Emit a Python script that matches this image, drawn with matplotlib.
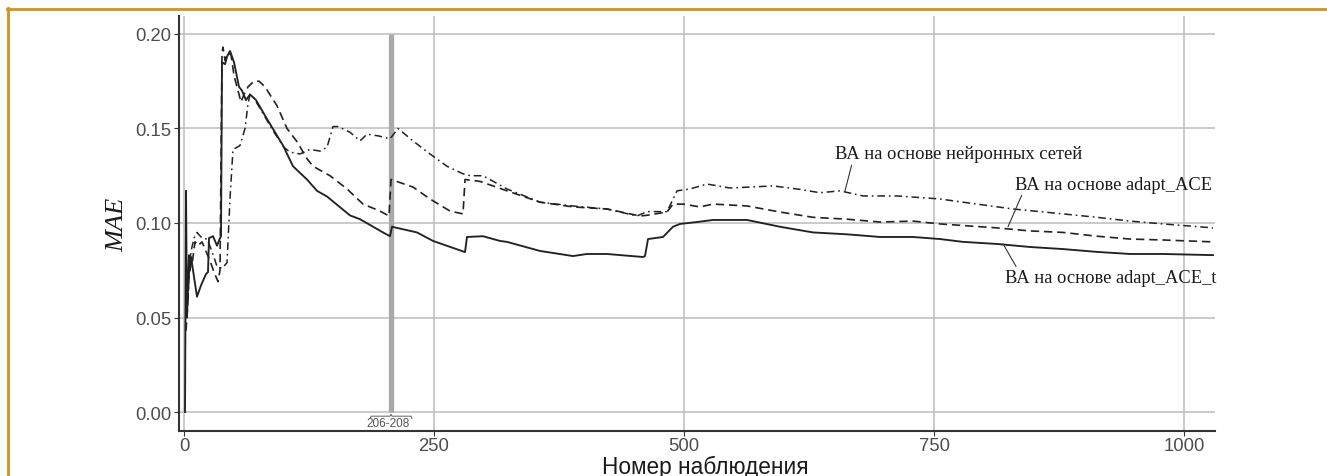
import matplotlib
matplotlib.use("Agg")
import matplotlib.pyplot as plt

# Observation index and running MAE for the three forecasting schemes
x_ace_t = [1, 2, 3, 5, 6, 7, 9, 13, 17, 22, 24, 25, 29, 33, 36, 37, 38, 41, 43, 46, 50,
           55, 58, 62, 66, 72, 83, 99, 109, 123, 133, 143, 166, 176, 199, 206, 208, 233,
           249, 281, 283, 299, 316, 323, 356, 389, 403, 423, 459, 461, 464, 479, 489, 496,
           513, 529, 563, 596, 629, 663, 696, 729, 756, 779, 813, 846, 879, 913, 946, 979,
           1029]
mae_ace_t = [0.000, 0.117, 0.050, 0.083, 0.075, 0.082, 0.075, 0.061, 0.067, 0.073, 0.074,
             0.092, 0.093, 0.088, 0.092, 0.093, 0.185, 0.184, 0.188, 0.191, 0.185, 0.172,
             0.170, 0.165, 0.168, 0.165, 0.155, 0.141, 0.130, 0.123, 0.117, 0.114, 0.104,
             0.102, 0.095, 0.093, 0.098, 0.095, 0.0905, 0.0846, 0.0926, 0.093, 0.0905,
             0.090, 0.0852, 0.0825, 0.0836, 0.0836, 0.082, 0.0825, 0.0915, 0.0926, 0.098,
             0.0995, 0.1005, 0.1016, 0.1016, 0.098, 0.095, 0.094, 0.0926, 0.0926, 0.0915,
             0.090, 0.0889, 0.0873, 0.0862, 0.0847, 0.0836, 0.0836, 0.083]

x_ace = [2, 4, 6, 8, 11, 14, 18, 22, 26, 30, 34, 36, 38, 39, 41, 44, 47, 50, 54, 57, 60,
         64, 70, 75, 81, 93, 103, 113, 123, 129, 146, 163, 179, 196, 205, 207, 229, 246,
         266, 279, 281, 296, 323, 356, 389, 423, 456, 462, 483, 489, 499, 516, 529, 563,
         596, 629, 663, 696, 729, 756, 813, 846, 879, 913, 946, 979, 1029]
mae_ace = [0.043, 0.060, 0.084, 0.078, 0.090, 0.088, 0.090, 0.085, 0.080, 0.074, 0.069,
           0.075, 0.190, 0.193, 0.186, 0.190, 0.189, 0.178, 0.170, 0.164, 0.168, 0.172,
           0.175, 0.175, 0.172, 0.162, 0.150, 0.143, 0.134, 0.130, 0.125, 0.118, 0.110,
           0.1063, 0.1037, 0.123, 0.119, 0.1127, 0.1063, 0.1048, 0.123, 0.122, 0.117,
           0.111, 0.1085, 0.1074, 0.1037, 0.104, 0.1058, 0.110, 0.110, 0.1085, 0.110,
           0.109, 0.1058, 0.103, 0.102, 0.1005, 0.101, 0.0995, 0.0974, 0.0958, 0.095,
           0.093, 0.0915, 0.091, 0.090]

x_nn = [3, 5, 7, 10, 13, 18, 23, 28, 33, 38, 43, 46, 49, 53, 56, 61, 64, 66, 70, 80, 90,
        100, 106, 116, 126, 136, 143, 149, 154, 166, 176, 183, 195, 206, 214, 229, 246,
        263, 279, 286, 299, 323, 356, 389, 423, 453, 463, 483, 493, 506, 523, 546, 589,
        613, 636, 656, 679, 713, 756, 779, 829, 879, 913, 946, 979, 1029]
mae_nn = [0.050, 0.070, 0.085, 0.092, 0.095, 0.092, 0.0915, 0.085, 0.077, 0.076, 0.079,
          0.113, 0.139, 0.140, 0.141, 0.150, 0.163, 0.168, 0.166, 0.157, 0.148, 0.140,
          0.1375, 0.1365, 0.139, 0.138, 0.140, 0.151, 0.151, 0.148, 0.1434, 0.147, 0.146,
          0.1445, 0.150, 0.1434, 0.1365, 0.130, 0.126, 0.125, 0.125, 0.118, 0.111, 0.109,
          0.1074, 0.1037, 0.106, 0.106, 0.117, 0.118, 0.1206, 0.1185, 0.1196, 0.118,
          0.116, 0.117, 0.1143, 0.1143, 0.1127, 0.111, 0.1074, 0.1048, 0.103, 0.101,
          0.0995, 0.0974]

labels = ["ВА на основе нейронных сетей",
          "ВА на основе adapt_ACE",
          "ВА на основе adapt_ACE_t"]

x_ticks = [0, 250, 500, 750, 1000]
y_ticks = [0.00, 0.05, 0.10, 0.15, 0.20]
band = (206, 208)

plt.rcParams["lines.scale_dashes"] = False

fig = plt.figure(figsize=(13.27, 4.77), dpi=100)
ax = fig.add_axes([0.1349, 0.0943, 0.9156 - 0.1349, 0.9644 - 0.0943])

line_col = "#222222"
ax.plot(x_ace_t, mae_ace_t, color=line_col, lw=1.35, solid_joinstyle="round", zorder=4)
ax.plot(x_ace, mae_ace, color=line_col, lw=1.2, linestyle=(0, (6, 3.5)), zorder=4)
ax.plot(x_nn, mae_nn, color=line_col, lw=1.1, linestyle=(0, (5.5, 2.8, 1.2, 2.8)), zorder=4)

# highlighted observation interval
band_mid = (band[0] + band[1]) / 2
ax.vlines(band_mid, y_ticks[0], y_ticks[-1], color="#a9a9a9", lw=3.8, zorder=3)
bx = [band_mid - 21, band_mid - 20, band_mid - 1, band_mid, band_mid + 1, band_mid + 20, band_mid + 21]
by = [-0.0034, -0.0022, -0.0022, -0.0012, -0.0022, -0.0022, -0.0034]
ax.plot(bx, by, color="#606060", lw=0.7, zorder=4, clip_on=False)
ax.text(band_mid - 3, -0.0057, f"{band[0]}-{band[1]}", ha="center", va="center",
        fontsize=8.5, color="#555555", family="Liberation Sans", zorder=4)

ax.set_xlim(-5, 1031)
ax.set_ylim(-0.01005, 0.2095)
ax.set_xticks(x_ticks)
ax.set_yticks(y_ticks)
ax.set_yticklabels([f"{v:.2f}" for v in y_ticks])
ax.grid(True, color="#bcbcbc", lw=1.1, zorder=0)
ax.set_axisbelow(True)
for s in ["top", "right"]:
    ax.spines[s].set_visible(False)
for s in ["left", "bottom"]:
    ax.spines[s].set_color("#333333")
    ax.spines[s].set_linewidth(1.5)
ax.tick_params(axis="both", length=3.5, width=0.8, color="#333333", labelcolor="#4d4d4d",
               labelsize=13.3, pad=2)
ax.tick_params(axis="x", pad=0.5)
for lab in ax.get_xticklabels() + ax.get_yticklabels():
    lab.set_family("Liberation Sans")

ax.set_xlabel("Номер наблюдения", fontsize=16.3, family="Liberation Sans", color="#1a1a1a")
ax.xaxis.set_label_coords(0.508, -0.057)
ax.set_ylabel("MAE", fontsize=19, family="Liberation Serif", style="italic", color="#1a1a1a")
ax.yaxis.set_label_coords(-0.049, 0.499)

# callouts for each curve
serif = dict(fontsize=13.3, family="Liberation Serif", color="#1a1a1a", zorder=5)
ax.annotate(labels[0], xy=(661, 0.117), xytext=(651, 0.1365), ha="left", va="center",
            arrowprops=dict(arrowstyle="-", color="#333333", lw=0.8,
                            shrinkA=0, shrinkB=0, relpos=(0.07, 0.0)), **serif)
ax.annotate(labels[1], xy=(824, 0.098), xytext=(831, 0.1206), ha="left", va="center",
            arrowprops=dict(arrowstyle="-", color="#333333", lw=0.8,
                            shrinkA=0, shrinkB=0, relpos=(0.04, 0.0)), **serif)
ax.annotate(labels[2], xy=(819, 0.089), xytext=(821, 0.071), ha="left", va="center",
            arrowprops=dict(arrowstyle="-", color="#333333", lw=0.8,
                            shrinkA=0, shrinkB=0, relpos=(0.06, 1.0)), **serif)

# orange frame along the top and left edges
fig.add_artist(plt.Line2D([7 / 1327, 1.0], [1 - 10 / 477, 1 - 10 / 477],
                          transform=fig.transFigure, color="#d4921a", lw=2.0))
fig.add_artist(plt.Line2D([7.5 / 1327, 7.5 / 1327], [0.0, 1 - 9 / 477],
                          transform=fig.transFigure, color="#d4921a", lw=2.0))

fig.savefig("out.png", dpi=100)
